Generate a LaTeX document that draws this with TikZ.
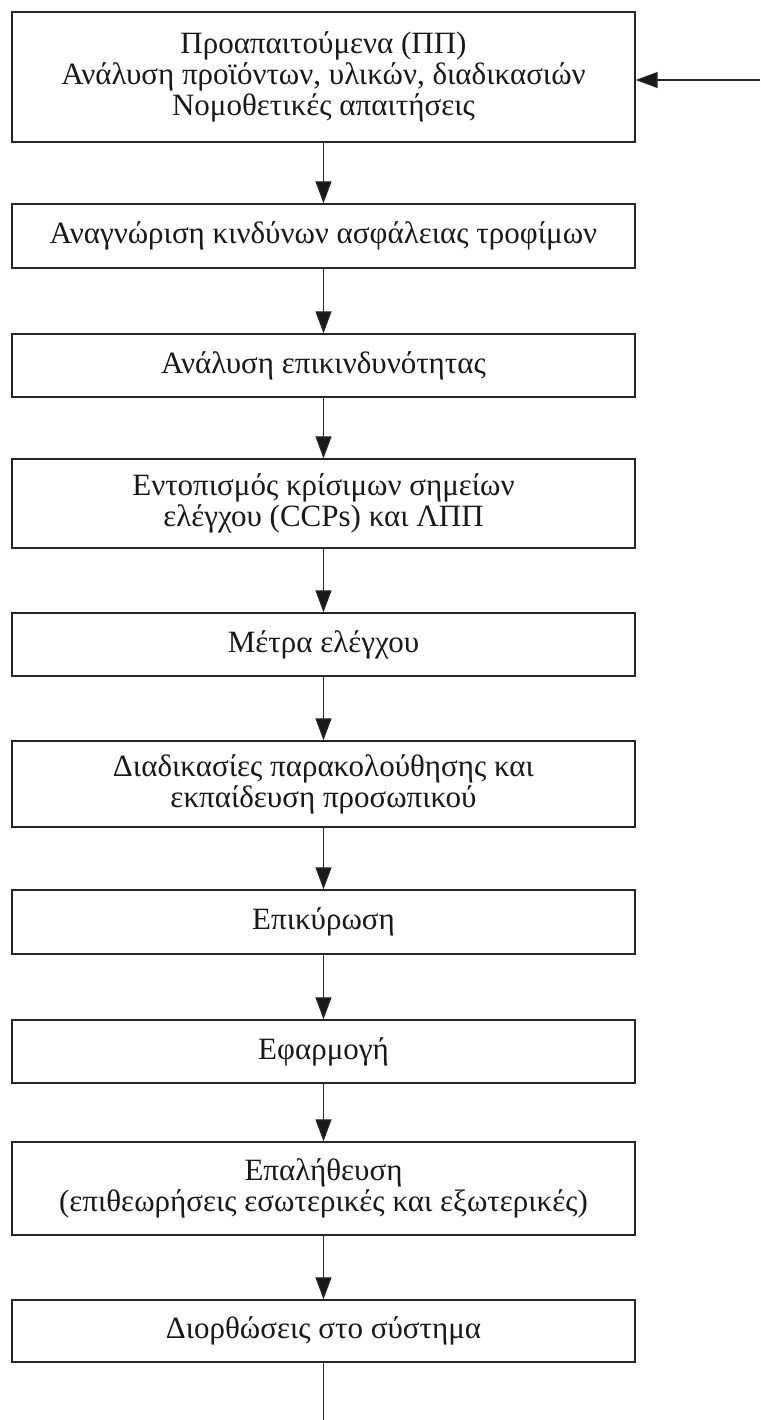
\documentclass[tikz,border=0pt]{standalone}
\usepackage{fontspec}
\setmainfont{Liberation Serif}
\usetikzlibrary{arrows.meta}
\tikzset{
  stepbox/.style={draw=black!85, line width=1.4pt, rectangle, minimum width=623pt,
    inner sep=0pt, align=center, font=\fontsize{31}{31}\selectfont, text=black!90},
  flow/.style={draw=black!85, line width=1.3pt, -{Triangle[length=22pt,width=16pt,fill=black!90]}},
  plain/.style={draw=black!85, line width=1.3pt}
}
\begin{document}
\begin{tikzpicture}[x=1pt,y=-1pt]
\useasboundingbox (0,0) rectangle (760,1420);
\fill[white] (0,0) rectangle (760,1420);
\node[stepbox, minimum height=130pt] (b1) at (323.5,77) {Προαπαιτούμενα (ΠΠ)\\Ανάλυση προϊόντων, υλικών, διαδικασιών\\Νομοθετικές απαιτήσεις};
\node[stepbox, minimum height=64pt] (b2) at (323.5,236) {Αναγνώριση κινδύνων ασφάλειας τροφίμων};
\node[stepbox, minimum height=63pt] (b3) at (323.5,365.5) {Ανάλυση επικινδυνότητας};
\node[stepbox, minimum height=89pt] (b4) at (323.5,503.5) {Εντοπισμός κρίσιμων σημείων\\ελέγχου (CCPs) και ΛΠΠ};
\node[stepbox, minimum height=63pt] (b5) at (323.5,644.5) {Μέτρα ελέγχου};
\node[stepbox, minimum height=86pt] (b6) at (323.5,784) {Διαδικασίες παρακολούθησης και\\εκπαίδευση προσωπικού};
\node[stepbox, minimum height=64pt] (b7) at (323.5,922) {Επικύρωση};
\node[stepbox, minimum height=63pt] (b8) at (323.5,1051.5) {Εφαρμογή};
\node[stepbox, minimum height=93pt] (b9) at (323.5,1188.5) {Επαλήθευση\\(επιθεωρήσεις εσωτερικές και εξωτερικές)};
\node[stepbox, minimum height=62pt] (b10) at (323.5,1331) {Διορθώσεις στο σύστημα};
\coordinate (fb) at (760,80);
\coordinate (out) at (323.5,1420);
\draw[flow] (fb) -- (fb -| b1.east);
\draw[flow] (b1) -- (b2);
\draw[flow] (b2) -- (b3);
\draw[flow] (b3) -- (b4);
\draw[flow] (b4) -- (b5);
\draw[flow] (b5) -- (b6);
\draw[flow] (b6) -- (b7);
\draw[flow] (b7) -- (b8);
\draw[flow] (b8) -- (b9);
\draw[flow] (b9) -- (b10);
\draw[plain] (b10.south) -- (out);
\end{tikzpicture}
\end{document}
